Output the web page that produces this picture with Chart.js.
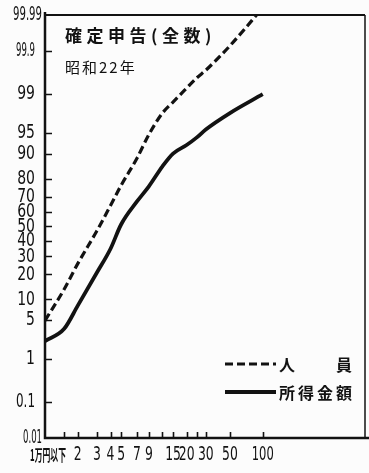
<!DOCTYPE html>
<html>
<head>
<meta charset="utf-8">
<script src="https://cdn.jsdelivr.net/npm/chart.js@4.4.1/dist/chart.umd.min.js"></script>
<style>
  html, body { margin: 0; padding: 0; background: #fcfcfc; }
  canvas { display: block; }
</style>
</head>
<body>
<canvas id="chart" width="369" height="473"></canvas>
<script>
'use strict';

// income class boundaries (万円) and cumulative shares (%)
var incomeBounds = [1, 1.5, 2, 3, 4, 5, 7, 9, 12, 15, 20, 25, 30, 50, 100];
var personsPct = [4.9, 13.5, 25.7, 47, 64.4, 76.5, 88.5, 94.7, 97.7, 98.57, 99.25, 99.56, 99.7, 99.926, 99.994];
var amountPct = [2.2, 3.6, 8.2, 20.9, 34.8, 51.4, 67, 76, 85.5, 90, 92.4, 94.2, 95.6, 97.7, 99];

var xTickValues = [1, 1.5, 2, 3, 4, 5, 7, 9, 12, 15, 20, 25, 30, 50, 100];
var xTickLabels = ['1万円以下', '', '2', '3', '4', '5', '7', '9', '', '15', '20', '', '30', '50', '100'];
var yTickValues = [0.01, 0.1, 1, 5, 10, 20, 30, 40, 50, 60, 70, 80, 90, 95, 99, 99.9, 99.99];

var ink = '#121212';
var numFont = "'DejaVu Sans', sans-serif";
var cjk = "'Noto Sans CJK JP', sans-serif";

// inverse of the standard normal CDF (Acklam)
function probit(p) {
    var a = [-3.969683028665376e+01, 2.209460984245205e+02, -2.759285104469687e+02,
             1.383577518672690e+02, -3.066479806614716e+01, 2.506628277459239e+00];
    var b = [-5.447609879822406e+01, 1.615858368580409e+02, -1.556989798598866e+02,
             6.680131188771972e+01, -1.328068155288572e+01];
    var c = [-7.784894002430293e-03, -3.223964580411365e-01, -2.400758277161838e+00,
             -2.549732539343734e+00, 4.374664141464968e+00, 2.938163982698783e+00];
    var d = [7.784695709041462e-03, 3.224671290700398e-01, 2.445134137142996e+00,
             3.754408661907416e+00];
    var pl = 0.02425, q, r;
    if (p < pl) {
        q = Math.sqrt(-2 * Math.log(p));
        return (((((c[0] * q + c[1]) * q + c[2]) * q + c[3]) * q + c[4]) * q + c[5]) /
               ((((d[0] * q + d[1]) * q + d[2]) * q + d[3]) * q + 1);
    }
    if (p > 1 - pl) {
        q = Math.sqrt(-2 * Math.log(1 - p));
        return -(((((c[0] * q + c[1]) * q + c[2]) * q + c[3]) * q + c[4]) * q + c[5]) /
                ((((d[0] * q + d[1]) * q + d[2]) * q + d[3]) * q + 1);
    }
    q = p - 0.5;
    r = q * q;
    return (((((a[0] * r + a[1]) * r + a[2]) * r + a[3]) * r + a[4]) * r + a[5]) * q /
           (((((b[0] * r + b[1]) * r + b[2]) * r + b[3]) * r + b[4]) * r + 1);
}

function normCdf(z) {
    var t = 1 / (1 + 0.3275911 * Math.abs(z) / Math.SQRT2);
    var y = 1 - (((((1.061405429 * t - 1.453152027) * t) + 1.421413741) * t - 0.284496736) * t + 0.254829592) * t *
            Math.exp(-z * z / 2);
    return z >= 0 ? (1 + y) / 2 : (1 - y) / 2;
}

// normal probability paper axis, values in percent
class ProbabilityScale extends Chart.Scale {
    determineDataLimits() {
        this.min = this.options.min;
        this.max = this.options.max;
    }
    buildTicks() {
        return yTickValues.map(function (v) { return {value: v}; });
    }
    configure() {
        super.configure();
        this._startZ = probit(this.min / 100);
        this._rangeZ = probit(this.max / 100) - this._startZ;
    }
    getLabelForValue(value) {
        return String(value);
    }
    getPixelForValue(value) {
        return this.getPixelForDecimal((probit(value / 100) - this._startZ) / this._rangeZ);
    }
    getValueForPixel(pixel) {
        return normCdf(this._startZ + this.getDecimalForPixel(pixel) * this._rangeZ) * 100;
    }
}
ProbabilityScale.id = 'probability';
ProbabilityScale.defaults = {};
Chart.register(ProbabilityScale);

function toPoints(ys) {
    return incomeBounds.map(function (x, i) { return {x: x, y: ys[i]}; });
}

function spacedText(ctx, text, x, y, gap) {
    for (var i = 0; i < text.length; i++) {
        var ch = text[i];
        ctx.fillText(ch, x, y);
        x += ctx.measureText(ch).width + gap;
    }
}

// narrow printed figures: squeeze a label into at most `limit` px
function squeezed(ctx, text, x, y, ratio, limit) {
    var w = Math.min(ctx.measureText(text).width * ratio, limit);
    ctx.fillText(text, x, y, w);
}

// inward tick marks, squeezed tick labels, frame, headings and key
var decorations = {
    id: 'decorations',
    afterDatasetsDraw: function (chart) {
        var ctx = chart.ctx, area = chart.chartArea;
        var xs = chart.scales.x, ys = chart.scales.y;
        ctx.save();
        ctx.strokeStyle = ink;
        ctx.fillStyle = ink;

        ctx.lineWidth = 1.6;
        ctx.beginPath();
        xs.ticks.forEach(function (t) {
            if (t.value <= xs.min) return;
            var px = Math.round(xs.getPixelForValue(t.value)) + 0.5;
            ctx.moveTo(px, area.bottom);
            ctx.lineTo(px, area.bottom - 6);
        });
        ys.ticks.forEach(function (t) {
            if (t.value <= ys.min || t.value >= ys.max) return;
            var py = Math.round(ys.getPixelForValue(t.value)) + 0.5;
            ctx.moveTo(area.left, py);
            ctx.lineTo(area.left + 7, py);
        });
        ctx.stroke();

        ctx.lineWidth = 2.5;
        ctx.beginPath();
        ctx.moveTo(area.left, area.top - 3);
        ctx.lineTo(area.left, area.bottom);
        ctx.lineTo(chart.width, area.bottom);
        ctx.stroke();
        ctx.lineWidth = 2;
        ctx.beginPath();
        ctx.moveTo(area.left, area.top);
        ctx.lineTo(area.right, area.top);
        ctx.stroke();
        ctx.lineWidth = 1.5;
        ctx.beginPath();
        ctx.moveTo(area.right, area.top);
        ctx.lineTo(area.right, area.bottom);
        ctx.stroke();

        // y tick labels
        ctx.textBaseline = 'middle';
        ctx.textAlign = 'right';
        ctx.font = '20px ' + numFont;
        ys.ticks.forEach(function (t) {
            var text = String(t.value);
            var py = ys.getPixelForValue(t.value);
            var edge = (t.value <= ys.min || t.value >= ys.max) ? 42 : 35;
            squeezed(ctx, text, edge, py, 0.7, text.length > 4 ? 29 : 19);
        });

        // x tick labels
        ctx.textAlign = 'center';
        xs.ticks.forEach(function (t, i) {
            var text = xTickLabels[i];
            if (!text) return;
            var px = xs.getPixelForValue(t.value);
            if (i === 0) {
                ctx.font = 'bold 16px ' + cjk;
                squeezed(ctx, text, px + 3, 455, 1, 36);
                ctx.font = '20px ' + numFont;
            } else {
                squeezed(ctx, text, px, 455, 0.62, 22);
            }
        });

        ctx.textAlign = 'left';
        ctx.font = 'bold 17px ' + cjk;
        spacedText(ctx, '確定申告(全数)', 65, 36, 4.5);
        ctx.font = '15px ' + cjk;
        spacedText(ctx, '昭和22年', 65, 67, 2);

        var sets = chart.data.datasets;
        var rows = [{y: 364, text: '人'}, {y: 392, text: '所得金額'}];
        rows.forEach(function (row, i) {
            var ds = sets[i];
            ctx.lineWidth = ds.borderWidth;
            ctx.setLineDash(ds.borderDash || []);
            ctx.beginPath();
            ctx.moveTo(225, row.y);
            ctx.lineTo(276, row.y);
            ctx.stroke();
            ctx.setLineDash([]);
            ctx.font = 'bold 16px ' + cjk;
            spacedText(ctx, row.text, 279, row.y + 1, 3);
        });
        ctx.font = 'bold 16px ' + cjk;
        ctx.fillText('員', 336, 365);
        ctx.restore();
    }
};

var chart = new Chart(document.getElementById('chart'), {
    type: 'line',
    data: {
        datasets: [
            {
                label: '人員',
                data: toPoints(personsPct),
                borderColor: ink,
                borderWidth: 3.2,
                borderDash: [8, 4],
                pointRadius: 0,
                cubicInterpolationMode: 'monotone',
                fill: false
            },
            {
                label: '所得金額',
                data: toPoints(amountPct),
                borderColor: ink,
                borderWidth: 3.8,
                pointRadius: 0,
                cubicInterpolationMode: 'monotone',
                fill: false
            }
        ]
    },
    options: {
        responsive: false,
        animation: false,
        devicePixelRatio: 1,
        layout: {padding: {left: 0, right: 4, top: 15, bottom: 0}},
        plugins: {
            legend: {display: false},
            tooltip: {enabled: false}
        },
        scales: {
            x: {
                type: 'logarithmic',
                min: 1,
                max: 870,
                grid: {display: false},
                border: {display: false},
                afterBuildTicks: function (scale) {
                    scale.ticks = xTickValues.map(function (v) { return {value: v}; });
                },
                afterFit: function (scale) { scale.height = 35; },
                ticks: {display: false, autoSkip: false}
            },
            y: {
                type: 'probability',
                min: 0.01,
                max: 99.99,
                grid: {display: false},
                border: {display: false},
                afterFit: function (scale) { scale.width = 45; },
                ticks: {display: false, autoSkip: false}
            }
        }
    },
    plugins: [decorations]
});
</script>
</body>
</html>
